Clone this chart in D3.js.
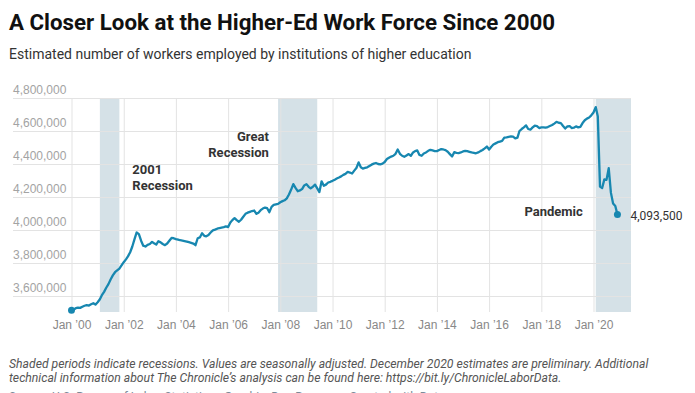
<!DOCTYPE html>
<html>
<head>
<meta charset="utf-8">
<script src="https://cdn.jsdelivr.net/npm/d3@7"></script>
<style>
  body { margin: 0; background: #fff; }
  svg { display: block; font-family: Roboto, "Noto Sans", sans-serif; }
</style>
</head>
<body>
<div id="chart"></div>
<script>
// Set dimensions
const width = 695;
const height = 393;
const plot = { left: 13, right: 631, top: 98, bottom: 312 };

// Workers employed by higher-ed institutions, thousands, monthly Jan 2000 - Dec 2020
const workers = [
  3513, 3518, 3526, 3530, 3528, 3535, 3541, 3545, 3542, 3550, 3556, 3548, // 2000
  3562, 3580, 3605, 3625, 3650, 3672, 3700, 3725, 3744, 3755, 3766, 3785, // 2001
  3805, 3822, 3840, 3865, 3900, 3945, 3985, 3975, 3935, 3905, 3900, 3910, // 2002
  3915, 3928, 3920, 3912, 3932, 3925, 3915, 3908, 3918, 3935, 3952, 3950, // 2003
  3945, 3942, 3938, 3936, 3933, 3930, 3926, 3922, 3918, 3908, 3950, 3955, // 2004
  3980, 3965, 3962, 3970, 3985, 3998, 4002, 4008, 4012, 4015, 4018, 4022, // 2005
  4018, 4045, 4060, 4072, 4060, 4050, 4062, 4080, 4098, 4105, 4110, 4115, // 2006
  4118, 4098, 4105, 4120, 4130, 4136, 4132, 4108, 4140, 4152, 4155, 4158, // 2007
  4168, 4175, 4180, 4192, 4215, 4245, 4278, 4255, 4235, 4240, 4248, 4270, // 2008
  4278, 4262, 4252, 4262, 4275, 4252, 4230, 4295, 4268, 4275, 4288, 4292, // 2009
  4298, 4305, 4312, 4318, 4325, 4334, 4340, 4352, 4348, 4342, 4360, 4376, // 2010
  4410, 4380, 4372, 4376, 4380, 4388, 4396, 4402, 4406, 4400, 4398, 4402, // 2011
  4412, 4430, 4438, 4445, 4450, 4462, 4488, 4462, 4450, 4444, 4452, 4460, // 2012
  4450, 4470, 4478, 4482, 4455, 4450, 4464, 4470, 4480, 4486, 4482, 4478, // 2013
  4478, 4485, 4490, 4488, 4484, 4474, 4460, 4446, 4472, 4468, 4466, 4470, // 2014
  4476, 4480, 4478, 4474, 4470, 4468, 4465, 4470, 4478, 4485, 4495, 4506, // 2015
  4488, 4505, 4518, 4525, 4532, 4536, 4540, 4560, 4562, 4565, 4567, 4566, // 2016
  4555, 4560, 4600, 4612, 4622, 4634, 4612, 4608, 4622, 4632, 4630, 4618, // 2017
  4622, 4622, 4620, 4624, 4630, 4636, 4645, 4655, 4650, 4648, 4630, 4615, // 2018
  4628, 4630, 4618, 4620, 4628, 4622, 4625, 4648, 4665, 4675, 4682, 4695, // 2019
  4712, 4745, 4690, 4263, 4254, 4307, 4304, 4375, 4225, 4161, 4146, 4093.5 // 2020
];
const firstMonth = new Date(2000, 0, 1);

// Recession periods (null end = still running at the edge of the chart)
const recessions = [
  { start: "2001-02-01", end: "2001-11-01" },
  { start: "2007-12-01", end: "2009-06-01" },
  { start: "2020-02-01", end: null }
];

// Tick values
const yTicks = [3600000, 3800000, 4000000, 4200000, 4400000, 4600000, 4800000];
const xTickYears = [2000, 2002, 2004, 2006, 2008, 2010, 2012, 2014, 2016, 2018, 2020];

// Annotation labels (value = baseline of the first line)
const annotations = [
  { lines: ["2001", "Recession"], date: "2002-05-01", value: 4340000, anchor: "start" },
  { lines: ["Great", "Recession"], date: "2007-07-25", value: 4541000, anchor: "end" },
  { lines: ["Pandemic"], date: "2019-08-05", value: 4087000, anchor: "end" }
];

const title = "A Closer Look at the Higher-Ed Work Force Since 2000";
const subtitle = "Estimated number of workers employed by institutions of higher education";
const notes = [
  "Shaded periods indicate recessions. Values are seasonally adjusted. December 2020 estimates are preliminary. Additional",
  "technical information about The Chronicle\u2019s analysis can be found here: https://bit.ly/ChronicleLaborData."
];
const source = "Source: U.S. Bureau of Labor Statistics \u2022 Graphic: Dan Bauman \u2022 Created with Datawrapper";

const data = workers.map((v, i) => ({ date: d3.timeMonth.offset(firstMonth, i), value: v * 1000 }));
const parse = d3.timeParse("%Y-%m-%d");

const svg = d3.select("#chart")
  .append("svg")
  .attr("width", width)
  .attr("height", height)
  .attr("viewBox", [0, 0, width, height]);

svg.append("rect").attr("width", width).attr("height", height).attr("fill", "#fff");

// Scales
const x = d3.scaleTime()
  .domain([new Date(2000, 0, 1), new Date(2020, 0, 1)])
  .range([71.5, 593.5]);

const y = d3.scaleLinear()
  .domain([3500000, 4800000])
  .range([plot.bottom + 0.5, plot.top]);

// Recession shading
svg.append("g")
  .selectAll("rect")
  .data(recessions)
  .join("rect")
  .attr("x", (d) => x(parse(d.start)))
  .attr("y", plot.top)
  .attr("width", (d) => (d.end ? x(parse(d.end)) : plot.right) - x(parse(d.start)))
  .attr("height", plot.bottom - plot.top)
  .attr("fill", "#d5e1e7");

// Y axis: gridlines with labels sitting above them
svg.append("g")
  .attr("transform", `translate(${plot.left},0)`)
  .call(d3.axisRight(y)
    .tickValues(yTicks)
    .tickSize(plot.right - plot.left)
    .tickFormat(d3.format(",")))
  .call((g) => g.select(".domain").remove())
  .call((g) => g.selectAll(".tick line").attr("stroke", "#e3e3e3"))
  .call((g) => g.selectAll(".tick text")
    .attr("x", 0)
    .attr("dy", -5)
    .attr("text-anchor", "start")
    .attr("fill", "#a3a3a3")
    .attr("font-size", "12px"));

// X axis: vertical gridlines and month labels
svg.append("g")
  .attr("transform", `translate(0,${plot.top})`)
  .call(d3.axisBottom(x)
    .tickValues(xTickYears.map((yr) => new Date(yr, 0, 1)))
    .tickSize(plot.bottom - plot.top)
    .tickPadding(8)
    .tickFormat(d3.timeFormat("Jan \u2019%y")))
  .call((g) => g.select(".domain").remove())
  .call((g) => g.selectAll(".tick line").attr("stroke", "#e3e3e3"))
  .call((g) => g.selectAll(".tick text")
    .attr("fill", "#888")
    .attr("font-size", "12px"));

// Line
const line = d3.line()
  .x((d) => x(d.date))
  .y((d) => y(d.value));

svg.append("path")
  .datum(data)
  .attr("d", line)
  .attr("fill", "none")
  .attr("stroke", "#1787b0")
  .attr("stroke-width", 2.3)
  .attr("stroke-linejoin", "round");

// Start and end dots
const first = data[0];
const last = data[data.length - 1];
svg.selectAll(".dot")
  .data([first, last])
  .join("circle")
  .attr("class", "dot")
  .attr("cx", (d) => x(d.date))
  .attr("cy", (d) => y(d.value))
  .attr("r", 3.5)
  .attr("fill", "#1787b0");

// End value label
svg.append("text")
  .attr("x", x(last.date) + 13)
  .attr("y", y(last.value) + 5)
  .attr("font-size", "12px")
  .attr("fill", "#333")
  .text(d3.format(",")(last.value));

// Annotations
annotations.forEach((a) => {
  const t = svg.append("text")
    .attr("x", x(parse(a.date)))
    .attr("y", y(a.value))
    .attr("text-anchor", a.anchor)
    .attr("font-size", "13px")
    .attr("font-weight", "bold")
    .attr("fill", "#333");
  a.lines.forEach((l, i) => {
    t.append("tspan")
      .attr("x", x(parse(a.date)))
      .attr("dy", i === 0 ? 0 : 16)
      .text(l);
  });
});

// Title and subtitle
svg.append("text")
  .attr("x", 9)
  .attr("y", 29.5)
  .attr("font-size", "22.3px")
  .attr("font-weight", "bold")
  .attr("fill", "#111")
  .text(title);

svg.append("text")
  .attr("x", 9)
  .attr("y", 58.5)
  .attr("font-size", "14px")
  .attr("fill", "#333")
  .text(subtitle);

// Notes
notes.forEach((n, i) => {
  svg.append("text")
    .attr("x", 9)
    .attr("y", 367.7 + i * 14)
    .attr("font-size", "12.2px")
    .attr("font-style", "italic")
    .attr("fill", "#555")
    .text(n);
});

// Source line, mostly below the visible area as in the original
svg.append("text")
  .attr("x", 9)
  .attr("y", 401)
  .attr("font-size", "12px")
  .attr("fill", "#7a8a99")
  .text(source);
</script>
</body>
</html>
